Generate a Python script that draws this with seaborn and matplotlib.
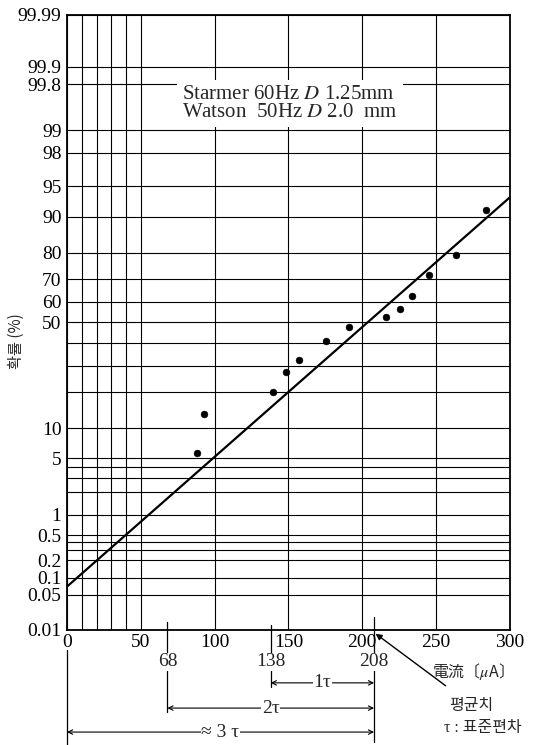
import numpy as np
import matplotlib
matplotlib.use("Agg")
import matplotlib.pyplot as plt
import seaborn as sns
from statistics import NormalDist

# measured points: current (uA) vs probability (%)
current = [88, 92.8, 139.5, 148.3, 157.1, 175.4, 191, 216, 225.5, 233.6, 245, 263.4, 283.7]
prob = [5.7, 13.4, 20, 27.3, 32.5, 41, 47.6, 52.7, 56.7, 62.7, 71.7, 79.3, 91.4]

# fitted straight line on probability paper
fit_current = [0, 300]
fit_prob = [0.07, 93.5]

y_ticks = [0.01, 0.05, 0.1, 0.2, 0.5, 1, 5, 10, 50, 60, 70, 80, 90, 95, 98, 99, 99.8, 99.9, 99.99]
y_labels = ['0.01', '0.05', '0.1', '0.2', '0.5', '1', '5', '10', '50', '60', '70', '80',
            '90', '95', '98', '99', '99.8', '99.9', '99.99']
y_minor = [0.3, 0.4, 2, 3, 4, 20, 30, 40]
x_ticks = [0, 50, 100, 150, 200, 250, 300]
x_minor = [10, 20, 30, 40]

sigma_marks = [68, 138, 208]
sigma_spans = [(138, 208, '1τ'), (68, 208, '2τ'), (0, 208, '≈ 3 τ')]

nd = NormalDist()
_ppf = np.vectorize(nd.inv_cdf, otypes=[float])
_cdf = np.vectorize(nd.cdf, otypes=[float])


def to_z(p):
    p = np.clip(np.asarray(p, dtype=float) / 100.0, 1e-10, 1 - 1e-10)
    return _ppf(p)


def from_z(z):
    return _cdf(np.asarray(z, dtype=float)) * 100.0


sns.set_style("white")
plt.rcParams['font.family'] = ['Liberation Serif', 'Noto Sans CJK KR', 'DejaVu Sans']
plt.rcParams['mathtext.fontset'] = 'stix'

fig = plt.figure(figsize=(5.33, 7.45), dpi=100)
ax = fig.add_axes([0.1257, 0.1544, 0.831, 0.8255])

ax.set_yscale('function', functions=(to_z, from_z))

sns.lineplot(x=fit_current, y=fit_prob, color='black', linewidth=1.6, ax=ax, zorder=3)
sns.scatterplot(x=current, y=prob, color='black', s=24, edgecolor='black', ax=ax, zorder=4)

ax.set_xlim(0, 300)
ax.set_ylim(0.01, 99.99)
ax.set_yticks(y_ticks)
ax.set_yticklabels(y_labels)
ax.set_yticks(y_minor, minor=True)
ax.set_xticks(x_ticks)
ax.set_xticks(x_minor, minor=True)
ax.tick_params(which='both', length=0, labelsize=14, colors='black')
ax.tick_params(axis='x', pad=3)
ax.tick_params(axis='y', pad=4)
ax.grid(which='both', color='black', linewidth=0.8)
ax.set_axisbelow(True)
for sp in ax.spines.values():
    sp.set_visible(True)
    sp.set_color('black')
    sp.set_linewidth(1.3)

ax.set_xlabel('')
ax.set_ylabel('확률 (%)', family=['Noto Sans CJK KR', 'DejaVu Sans'], fontsize=11)
ax.yaxis.set_label_coords(-0.095, 0.47)

# legend-like text block
ax.text(78, 0.856, 'Starmer 60Hz $D$ 1.25mm\nWatson  50Hz $D$ 2.0  mm',
        transform=ax.get_xaxis_transform(), fontsize=15, va='center', ha='left',
        linespacing=0.88, bbox=dict(facecolor='white', edgecolor='none', pad=4))

# annotations below the axis
tr = ax.get_xaxis_transform()
ext = {0: (-0.033, -0.187), 68: (0.013, -0.133), 138: (0.008, -0.093), 208: (0.021, -0.182)}
for xv, (y0, y1) in ext.items():
    ax.plot([xv, xv], [y0, y1], color='black', lw=0.9, transform=tr, clip_on=False)
for xv in sigma_marks:
    ax.text(xv, -0.052, str(xv), transform=tr, ha='center', va='center', fontsize=14,
            bbox=dict(facecolor='white', edgecolor='none', pad=0.5), zorder=5)

span_y = [-0.086, -0.127, -0.166]
for (a, b, lab), yv in zip(sigma_spans, span_y):
    ax.annotate('', xy=(b, yv), xytext=(a, yv), xycoords=tr, textcoords=tr,
                arrowprops=dict(arrowstyle='<->', lw=0.8, color='black', mutation_scale=8,
                                shrinkA=0, shrinkB=0), annotation_clip=False)
    ax.text((a + b) / 2, yv, lab, transform=tr, ha='center', va='center', fontsize=14,
            bbox=dict(facecolor='white', edgecolor='none', pad=0.5), zorder=5)

ax.text(272, -0.068, '電流〔$\\mu$A〕', transform=tr, ha='center', va='center',
        family=['Noto Sans CJK KR', 'DejaVu Sans'], fontsize=11.5)

ax.annotate('평균치', xy=(209, -0.006), xytext=(274, -0.122), xycoords=tr, textcoords=tr,
            ha='center', va='center', family=['Noto Sans CJK KR', 'DejaVu Sans'], fontsize=11.5,
            arrowprops=dict(arrowstyle='-|>', lw=1.0, color='black', mutation_scale=9,
                            shrinkA=9, shrinkB=0), annotation_clip=False)
ax.text(282, -0.159, 'τ : 표준편차', transform=tr, ha='center', va='center',
        family=['Liberation Serif', 'Noto Sans CJK KR'], fontsize=11.5)

fig.savefig('out.png', dpi=100)
